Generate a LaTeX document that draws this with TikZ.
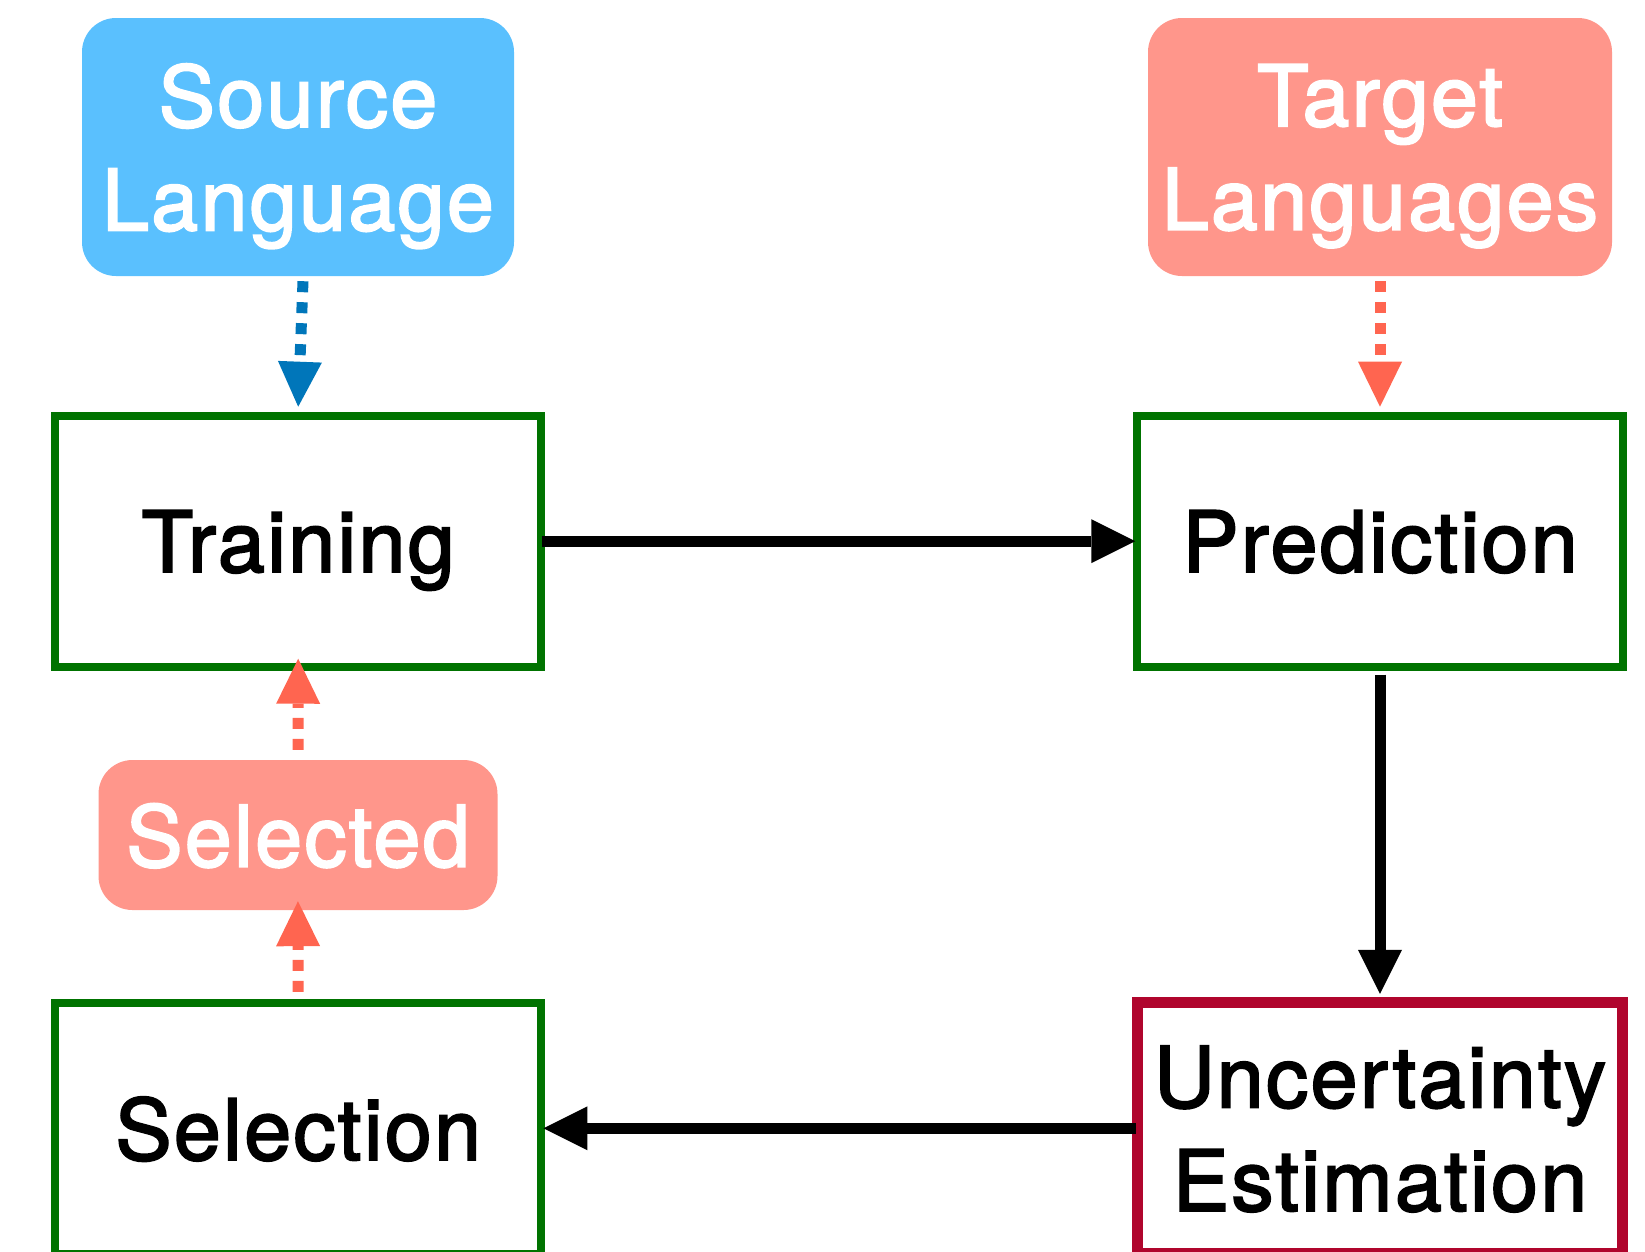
\documentclass[tikz,border=0pt]{standalone}
\usepackage{fontspec}
\setmainfont[FakeBold=2.3, LetterSpace=2.7]{TeX Gyre Heros}
\usepackage{tikz}
\usetikzlibrary{arrows.meta}

\definecolor{stagegreen}{RGB}{0,115,0}
\definecolor{uncred}{RGB}{176,5,45}
\definecolor{srcblue}{RGB}{90,192,254}
\definecolor{srcarrow}{RGB}{0,118,186}
\definecolor{salmon}{RGB}{255,150,139}
\definecolor{coral}{RGB}{255,101,80}

\tikzset{
  bigfont/.style={font=\fontsize{84.5}{103.5}\selectfont},
  stage/.style={draw=#1, minimum width=485.5pt, minimum height=251pt,
    inner sep=0pt, align=center, text depth=0pt, bigfont},
  langbox/.style={fill=#1, rounded corners=34pt, inner sep=0pt,
    text=white, align=center, text depth=0pt, bigfont},
  flow/.style={line width=11pt, -{Triangle[length=44pt,width=44pt,line width=0pt]}},
  feed/.style={draw=#1, line width=11pt, dash pattern=on 11pt off 10pt,
    -{Triangle[length=45pt,width=44pt,line width=0pt]}},
}

\begin{document}
\begin{tikzpicture}[x=1pt, y=-1pt]
  \useasboundingbox (0,0) rectangle (1645,1251);

  % language sources
  \node[langbox=srcblue, minimum width=432pt, minimum height=258pt] (src) at (298,147) {Source\\Language};
  \node[langbox=salmon, minimum width=464pt, minimum height=258pt] (tgt) at (1380,147) {Target\\Languages};
  \node[langbox=salmon, minimum width=399pt, minimum height=150pt] (chosen) at (298,835) {Selected};

  % the loop itself
  \node[stage=stagegreen, line width=8pt] (train) at (298.2,541.2) {Training};
  \node[stage=stagegreen, line width=8pt] (pred) at (1380,541.2) {Prediction};
  \node[stage=stagegreen, line width=8pt] (sel) at (298.2,1128.3) {Selection};
  \node[stage=uncred, line width=11pt] (unc) at (1380,1128.3) {Uncertainty\\Estimation};

  \draw[flow, shorten <=-3pt, shorten >=-2pt] (train.east) -- (pred.west);
  \draw[flow, shorten <=4pt, shorten >=3.5pt] (pred.south) -- (unc.north);
  \draw[flow, shorten <=-4pt, shorten >=-1.5pt] (unc.west) -- (sel.east);

  \draw[feed=srcarrow] ([xshift=5pt,yshift=-5pt]src.south) -- ([yshift=5pt]train.north);
  \draw[feed=coral, shorten <=5pt, shorten >=5pt] (tgt.south) -- (pred.north);
  \draw[feed=coral, shorten <=7pt, shorten >=-9pt] (sel.north) -- (chosen.south);
  \draw[feed=coral, shorten <=10pt, shorten >=-12pt] (chosen.north) -- (train.south);
\end{tikzpicture}
\end{document}
